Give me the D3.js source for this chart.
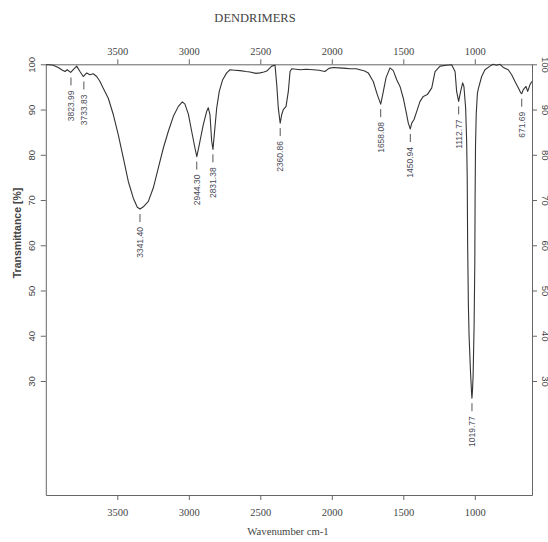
<!DOCTYPE html>
<html lang="en">
<head>
  <meta charset="utf-8">
  <title>Dendrimers FTIR</title>
  <script src="https://d3js.org/d3.v7.min.js"></script>
  <style>
    body { margin: 0; background: #fff; }
    .serif { font-family: 'Liberation Serif', 'Times New Roman', serif; }
    .sans { font-family: 'Liberation Sans', Arial, sans-serif; }
    .spectrum { fill: none; stroke: #333; stroke-width: 1.1px; stroke-linejoin: round; }
    .axis path, .axis line { stroke: #666; }
  </style>
</head>
<body>
<div id="chart"></div>
<script>
  // spectrum (wavenumber cm-1, transmittance %)
  var wavenumbers = [4000, 3975, 3948, 3913, 3889, 3866, 3850, 3826, 3808, 3784, 3761, 3738, 3714, 3691, 3668, 3644,
    3621, 3600, 3563, 3528, 3493, 3458, 3423, 3388, 3360, 3341, 3318, 3283, 3248, 3213, 3178, 3143, 3108, 3073, 3045,
    3027, 3003, 2980, 2957, 2944, 2927, 2899, 2875, 2864, 2852, 2840, 2831, 2822, 2805, 2787, 2763, 2735, 2712, 2680,
    2642, 2600, 2572, 2530, 2502, 2475, 2455, 2420, 2397, 2385, 2374, 2361, 2350, 2339, 2320, 2304, 2292, 2280, 2250,
    2222, 2180, 2129, 2090, 2048, 2020, 1990, 1950, 1900, 1873, 1830, 1803, 1770, 1745, 1710, 1682, 1658, 1644, 1621,
    1593, 1570, 1546, 1523, 1500, 1481, 1465, 1451, 1441, 1425, 1406, 1383, 1360, 1332, 1301, 1278, 1243, 1197, 1162,
    1138, 1127, 1113, 1099, 1085, 1076, 1064, 1057, 1053, 1050, 1045, 1040, 1030, 1022, 1020, 1016, 1012, 1005, 1000,
    998, 995, 990, 982, 976, 952, 929, 894, 871, 847, 824, 801, 766, 742, 719, 696, 679, 672, 661, 642, 630, 614, 602];
  var transmittance = [99.9, 99.9, 99.8, 99.3, 98.8, 98.4, 98.8, 98.2, 98.8, 99.6, 98.4, 97.3, 98.1, 97.7, 97.9, 97.3,
    96.2, 94.8, 92.5, 88.9, 84.4, 79.3, 74.1, 70.4, 68.4, 68.0, 68.5, 69.7, 72.7, 77.1, 81.5, 85.2, 88.5, 90.7, 91.7,
    91.2, 89.0, 85.2, 81.5, 79.6, 82.2, 86.6, 89.6, 90.4, 88.9, 83.0, 81.2, 84.4, 90.3, 94.0, 96.6, 98.1, 98.8, 98.7,
    98.6, 98.4, 98.3, 98.0, 98.1, 98.3, 98.5, 99.6, 99.8, 95.5, 90.3, 87.0, 88.9, 90.0, 90.7, 94.0, 98.4, 99.0, 98.9,
    98.8, 98.9, 98.8, 98.7, 98.4, 99.1, 99.3, 99.2, 99.1, 99.0, 99.0, 98.8, 98.5, 98.1, 96.2, 93.3, 91.2, 93.3, 97.0,
    99.2, 98.6, 96.6, 95.1, 92.5, 89.6, 87.0, 85.7, 87.0, 87.8, 89.6, 91.8, 92.9, 93.3, 94.8, 98.4, 99.6, 99.8, 99.9,
    98.4, 94.0, 91.8, 94.0, 95.9, 95.1, 90.3, 83.0, 74.9, 60.0, 47.0, 40.0, 32.0, 27.0, 26.2, 28.0, 31.0, 42.0, 56.0,
    70.0, 82.0, 89.0, 93.5, 94.5, 97.3, 98.8, 99.6, 100.0, 99.8, 100.0, 99.3, 98.8, 97.7, 96.2, 94.8, 93.7, 93.5, 94.4,
    95.1, 94.0, 95.5, 96.2];

  // annotated peaks
  var peakLabels = ["3823.99", "3733.83", "3341.40", "2944.30", "2831.38", "2360.86", "1658.08", "1450.94",
    "1112.77", "1019.77", "671.69"];

  var xTicks = [3500, 3000, 2500, 2000, 1500, 1000];
  var yTicks = [30, 40, 50, 60, 70, 80, 90, 100];

  var width = 548, height = 542;
  var plotLeft = 45.8, plotRight = 532, plotTop = 64.3, plotBottom = 495;

  var svg = d3.select("#chart").append("svg")
    .attr("width", width)
    .attr("height", height);

  var x = d3.scaleLinear().domain([4000, 600]).range([plotLeft, plotRight]);
  var y = d3.scaleLinear().domain([4.8, 100]).range([plotBottom, plotTop]);

  var data = wavenumbers.map(function (w, i) { return { w: w, t: transmittance[i] }; });

  // axes
  svg.append("g").attr("class", "axis serif")
    .attr("transform", "translate(0," + plotTop + ")")
    .call(d3.axisTop(x).tickValues(xTicks).tickFormat(d3.format("d")).tickSize(5).tickSizeOuter(0).tickPadding(4))
    .call(function (g) { g.selectAll("text").attr("fill", "#444").style("font-size", "10.5px"); });

  svg.append("g").attr("class", "axis serif")
    .attr("transform", "translate(0," + plotBottom + ")")
    .call(d3.axisBottom(x).tickValues(xTicks).tickFormat(d3.format("d")).tickSize(5).tickSizeOuter(0).tickPadding(9))
    .call(function (g) { g.selectAll("text").attr("fill", "#444").style("font-size", "10.5px"); });

  svg.append("g").attr("class", "axis sans")
    .attr("transform", "translate(" + plotLeft + ",0)")
    .call(d3.axisLeft(y).tickValues(yTicks).tickSize(5).tickSizeOuter(0))
    .call(function (g) {
      g.selectAll("text")
        .attr("x", null).attr("dy", "0.35em")
        .attr("text-anchor", "middle")
        .attr("transform", "translate(-14,0) rotate(-90)")
        .attr("fill", "#444").style("font-size", "9.5px");
    });

  svg.append("g").attr("class", "axis sans")
    .attr("transform", "translate(" + plotRight + ",0)")
    .call(d3.axisRight(y).tickValues(yTicks).tickSize(5).tickSizeOuter(0))
    .call(function (g) {
      g.selectAll("text")
        .attr("x", null).attr("dy", "0.35em")
        .attr("text-anchor", "middle")
        .attr("transform", "translate(13,0) rotate(90)")
        .attr("fill", "#444").style("font-size", "9.5px");
    });

  // spectrum
  svg.append("path")
    .datum(data)
    .attr("class", "spectrum")
    .attr("d", d3.line().x(function (d) { return x(d.w); }).y(function (d) { return y(d.t); }));

  // peak markers
  var peaks = peakLabels.map(function (s) {
    var w = +s;
    var nearest = data.reduce(function (a, b) { return Math.abs(b.w - w) < Math.abs(a.w - w) ? b : a; });
    return { label: s, w: w, t: nearest.t };
  });

  var pk = svg.append("g").selectAll("g").data(peaks).enter().append("g")
    .attr("transform", function (d) { return "translate(" + x(d.w) + "," + y(d.t) + ")"; });

  pk.append("line")
    .attr("y1", 5).attr("y2", 13)
    .attr("stroke", "#555").attr("stroke-width", 1);

  pk.append("text")
    .attr("class", "sans")
    .attr("transform", "translate(0,18) rotate(-90)")
    .attr("dy", "0.35em")
    .attr("text-anchor", "end")
    .attr("fill", "#4a4a58")
    .style("font-size", "8.5px")
    .text(function (d) { return d.label; });

  // titles
  svg.append("text").attr("class", "serif")
    .attr("x", 255).attr("y", 22)
    .attr("text-anchor", "middle")
    .attr("fill", "#444")
    .style("font-size", "12.5px")
    .text("DENDRIMERS");

  svg.append("text").attr("class", "serif")
    .attr("x", 288).attr("y", 535)
    .attr("text-anchor", "middle")
    .attr("fill", "#444")
    .style("font-size", "10.7px")
    .text("Wavenumber cm-1");

  svg.append("text").attr("class", "sans")
    .attr("transform", "translate(21,233) rotate(-90)")
    .attr("text-anchor", "middle")
    .attr("fill", "#444")
    .style("font-size", "10.5px")
    .style("font-weight", "bold")
    .text("Transmittance [%]");
</script>
</body>
</html>
